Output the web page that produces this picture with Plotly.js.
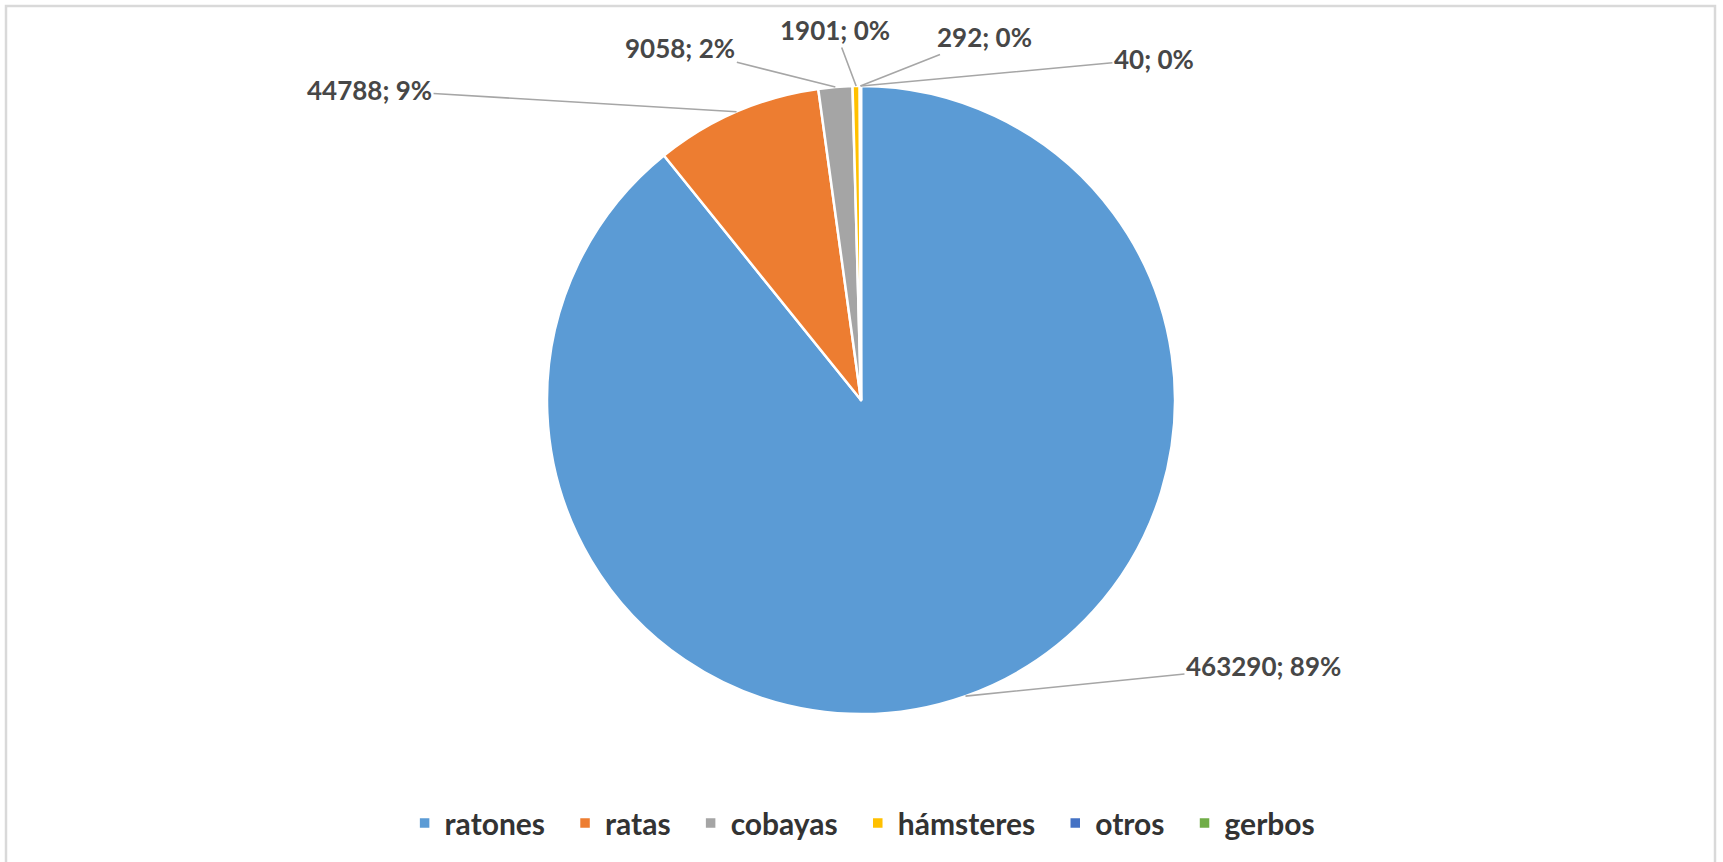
<!DOCTYPE html>
<html>
<head>
<meta charset="utf-8">
<script src="https://cdn.plot.ly/plotly-3.0.1.min.js"></script>
<style>
  html, body { margin: 0; padding: 0; background: #ffffff; }
  #chart { width: 1723px; height: 862px; }
</style>
</head>
<body>
<div id="chart"></div>
<script>
// ---- data ----
const categories = ['ratones', 'ratas', 'cobayas', 'hámsteres', 'otros', 'gerbos'];
const values = [463290, 44788, 9058, 1901, 292, 40];
const sliceColors = ['#5B9BD5', '#ED7D31', '#A5A5A5', '#FFC000', '#4472C4', '#70AD47'];

// ---- label placement (pixel offsets of label centre from slice edge point) ----
const labelOffsets = [[298, -30], [-367, -22], [-155, -39], [-21, -56], [124, -49], [293, -27]];

const W = 1723, H = 862;
const cx = 861, cy = 400, R = 314;

const total = values.reduce((a, b) => a + b, 0);

// slice mid-angle edge points (clockwise from 12 o'clock, as the pie is drawn)
let cum = 0;
const annotations = values.map((v, i) => {
  const mid = (cum + v / 2) / total;
  cum += v;
  const ang = mid * 2 * Math.PI;
  const px = cx + R * Math.sin(ang);
  const py = cy - R * Math.cos(ang);
  const pct = Math.round(100 * v / total);
  return {
    xref: 'paper', yref: 'paper',
    x: px / W, y: 1 - py / H,
    ax: labelOffsets[i][0], ay: labelOffsets[i][1],
    text: v + '; ' + pct + '%',
    showarrow: true, arrowhead: 0, arrowwidth: 1.6, arrowcolor: '#A6A6A6',
    standoff: 0, startstandoff: 0,
    font: { family: 'Lato, "Open Sans", sans-serif', size: 26, color: '#474747', weight: 'bold' }
  };
});

// legend entries with a little trailing spacing, as in the original legend
const legendLabels = categories.map(c => c + '\u2002');

const trace = {
  type: 'pie',
  labels: legendLabels,
  values: values,
  sort: false,
  direction: 'clockwise',
  rotation: 0,
  textinfo: 'none',
  hoverinfo: 'skip',
  marker: { colors: sliceColors, line: { color: '#ffffff', width: 2.5 } },
  domain: { x: [(cx - R) / W, (cx + R) / W], y: [1 - (cy + R) / H, 1 - (cy - R) / H] }
};

const layout = {
  width: W, height: H,
  margin: { l: 0, r: 0, t: 0, b: 0 },
  paper_bgcolor: '#ffffff',
  showlegend: true,
  legend: {
    orientation: 'h',
    x: 0.505, xanchor: 'center',
    y: 1 - 823 / H, yanchor: 'middle',
    font: { family: 'Lato, "Open Sans", sans-serif', size: 30, color: '#333333', weight: 'bold' },
    itemwidth: 30,
    traceorder: 'normal'
  },
  annotations: annotations,
  shapes: [{
    type: 'rect', xref: 'paper', yref: 'paper',
    x0: 6 / W, x1: 1715 / W, y0: -0.05, y1: 1 - 6 / H,
    line: { color: '#D9D9D9', width: 2.5 }, fillcolor: 'rgba(0,0,0,0)'
  }]
};

Plotly.newPlot('chart', [trace], layout, { staticPlot: true, displayModeBar: false });
</script>
</body>
</html>
